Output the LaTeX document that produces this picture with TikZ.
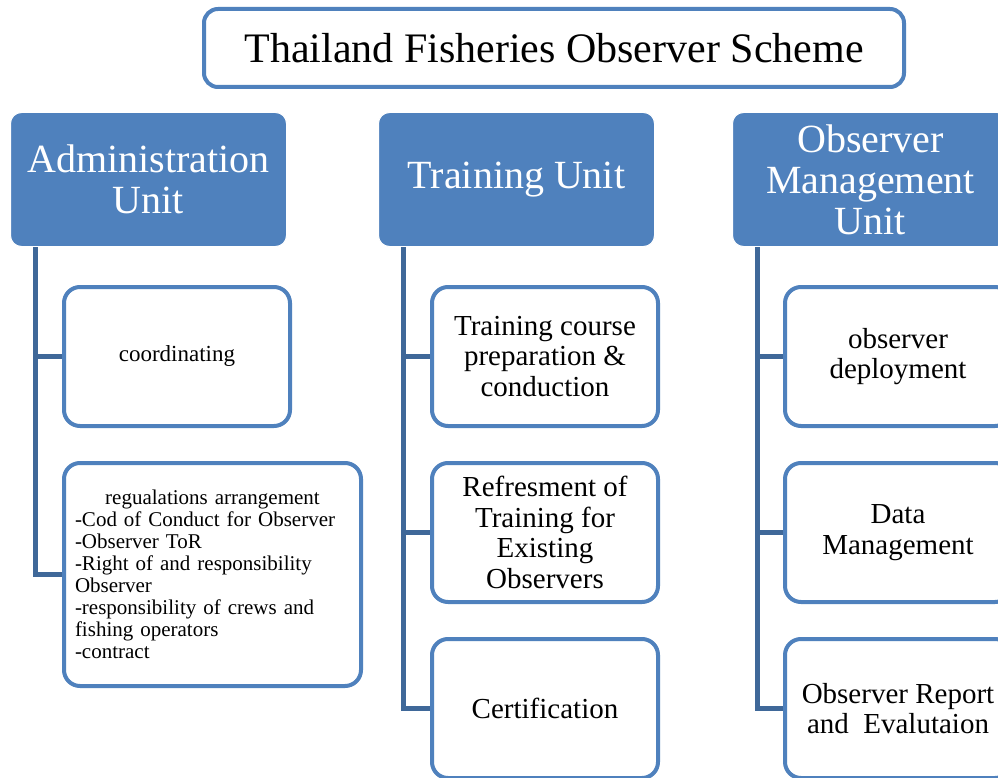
\documentclass[tikz,border=0pt]{standalone}
\usepackage{fontspec}
\setmainfont{Liberation Serif}
\usepackage{xcolor}
\usetikzlibrary{positioning}
\definecolor{SchemeBlue}{HTML}{4F81BD}
\definecolor{SchemeTrunk}{HTML}{3F6899}

\begin{document}
\begin{tikzpicture}[x=1pt,y=-1pt,
  titlebox/.style={draw=SchemeBlue,line width=4pt,rounded corners=14pt,fill=white,minimum width=700pt,minimum height=78pt,font=\fontsize{42}{44}\selectfont},
  unit/.style={draw=white,line width=1pt,fill=SchemeBlue,rounded corners=11pt,minimum width=276pt,minimum height=134pt,text=white,align=center,font=\fontsize{40}{41}\selectfont},
  task/.style={draw=SchemeBlue,line width=4pt,rounded corners=16pt,fill=white,minimum width=226pt,minimum height=139pt,align=center,font=\fontsize{29}{30.5}\selectfont},
  link/.style={draw=SchemeTrunk,line width=5pt}
]
\clip (0,0) rectangle (998,778);
\fill[white] (0,0) rectangle (998,778);

% scheme title and the three units
\node[titlebox] (scheme) at (554,48) {Thailand Fisheries Observer Scheme};
\node[unit] (admin) at (148.5,179.5) {Administration\\Unit};
\node[unit,right=91pt of admin] (training) {Training Unit};
\node[unit,right=77pt of training] (manage) {Observer\\Management\\Unit};

% administration tasks
\node[task,below=38pt of admin.south west,anchor=north west,xshift=52pt,font=\fontsize{23}{25}\selectfont] (coord) {coordinating};
\node[task,below=33pt of coord.south west,anchor=north west,minimum width=297pt,minimum height=223pt,text width=275pt,align=left,font=\fontsize{21}{22}\selectfont] (rules) {\makebox[\hsize]{regualations arrangement}\\
-Cod of Conduct for Observer\\
-Observer ToR\\
-Right of and responsibility\\
Observer\\
-responsibility of crews and\\
fishing operators\\
-contract};

% training tasks
\node[task,below=38pt of training.south west,anchor=north west,xshift=52pt] (course) {Training course\\preparation \&\\conduction};
\node[task,below=33pt of course] (refresh) {Refresment of\\Training for\\Existing\\Observers};
\node[task,below=33pt of refresh] (certify) {Certification};

% observer management tasks
\node[task,below=38pt of manage.south west,anchor=north west,xshift=51pt] (deploy) {observer\\deployment};
\node[task,below=33pt of deploy] (data) {Data\\Management};
\node[task,below=33pt of data] (report) {Observer Report\\and~ Evalutaion};

% trunks and branches
\coordinate (admintrunk) at ([xshift=25pt]admin.south west);
\coordinate (traintrunk) at ([xshift=25pt]training.south west);
\coordinate (managetrunk) at ([xshift=25pt]manage.south west);

\draw[link] (admintrunk) |- (rules.west);
\draw[link] (admintrunk |- coord.west) -- (coord.west);

\draw[link] (traintrunk) |- (certify.west);
\draw[link] (traintrunk |- course.west) -- (course.west);
\draw[link] (traintrunk |- refresh.west) -- (refresh.west);

\draw[link] (managetrunk) |- (report.west);
\draw[link] (managetrunk |- deploy.west) -- (deploy.west);
\draw[link] (managetrunk |- data.west) -- (data.west);
\end{tikzpicture}
\end{document}
